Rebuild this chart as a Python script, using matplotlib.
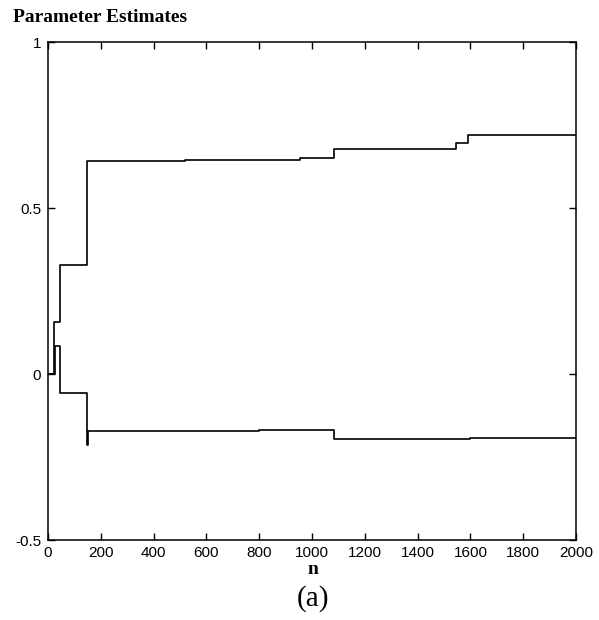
import matplotlib
matplotlib.use("Agg")
import matplotlib.pyplot as plt

# parameter estimate traces (piecewise constant)
upper_n = [0, 23, 45, 147, 520, 955, 1085, 1545, 1590, 2000]
upper_v = [0.0, 0.158, 0.329, 0.642, 0.645, 0.650, 0.677, 0.696, 0.719, 0.720]

lower_n = [0, 27, 45, 147, 150, 800, 1085, 1600, 2000]
lower_v = [0.0, 0.085, -0.058, -0.213, -0.172, -0.168, -0.195, -0.192, -0.192]

x_ticks = [0, 200, 400, 600, 800, 1000, 1200, 1400, 1600, 1800, 2000]
y_ticks = [-0.5, 0, 0.5, 1]
y_labels = ["-0.5", "0", "0.5", "1"]

plt.rcParams["axes.unicode_minus"] = False
tick_font = ["Liberation Sans Narrow", "Liberation Sans", "DejaVu Sans"]
serif = ["Liberation Serif", "DejaVu Serif"]

fig = plt.figure(figsize=(5.99, 6.2), dpi=100)
ax = fig.add_axes([0.0801, 0.129, 0.8815, 0.803])

ax.step(upper_n, upper_v, where="post", color="black", lw=1.2)
ax.step(lower_n, lower_v, where="post", color="black", lw=1.2)

ax.set_xlim(0, 2000)
ax.set_ylim(-0.5, 1)
ax.set_xticks(x_ticks)
ax.set_yticks(y_ticks)
ax.set_yticklabels(y_labels)
ax.tick_params(direction="in", length=5, width=1, top=True, right=True,
               labelsize=11)
ax.tick_params(axis="x", pad=4)
ax.tick_params(axis="y", pad=5)
for lab in ax.get_xticklabels() + ax.get_yticklabels():
    lab.set_family(tick_font)
for s in ax.spines.values():
    s.set_linewidth(1.1)

fig.text(0.022, 0.972, "Parameter Estimates", fontsize=14, fontweight="bold",
         family=serif, ha="left", va="center")
fig.text(0.522, 0.081, "n", fontsize=14, fontweight="bold",
         family=serif, ha="center", va="center")
fig.text(0.522, 0.034, "(a)", fontsize=21, family=serif,
         ha="center", va="center")

fig.savefig("out.png", dpi=100)
